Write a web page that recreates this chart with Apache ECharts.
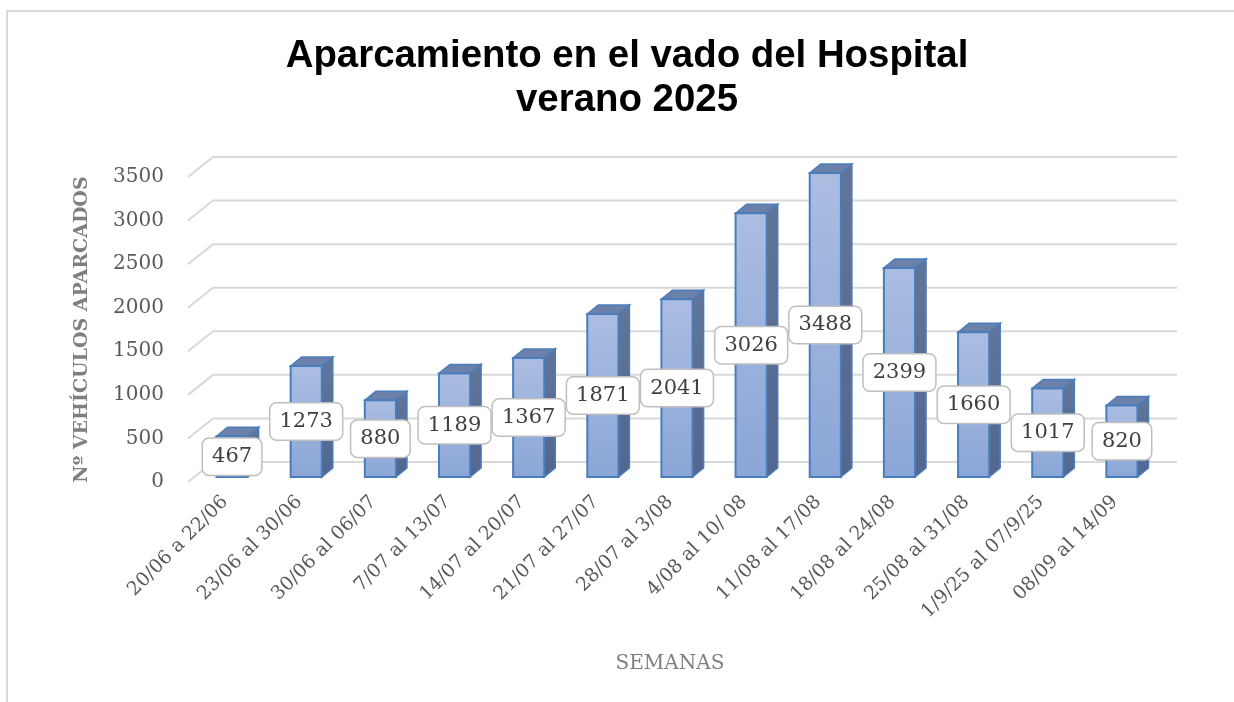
<!DOCTYPE html>
<html>
<head>
<meta charset="utf-8">
<title>Aparcamiento en el vado del Hospital</title>
<script src="https://cdn.jsdelivr.net/npm/echarts@6.0.0/dist/echarts.min.js"></script>
<style>
  html, body { margin: 0; padding: 0; background: #ffffff; }
  #chart { width: 1234px; height: 702px; }
</style>
</head>
<body>
<div id="chart"></div>
<script>
// semanas
const weeks = [
  '20/06 a 22/06', '23/06 al 30/06', '30/06 al 06/07', '7/07 al 13/07',
  '14/07 al 20/07', '21/07 al 27/07', '28/07 al 3/08', '4/08 al 10/ 08',
  '11/08 al 17/08', '18/08 al 24/08', '25/08 al 31/08', '1/9/25 al 07/9/25',
  '08/09 al 14/09'
];
// vehiculos aparcados
const parked = [467, 1273, 880, 1189, 1367, 1871, 2041, 3026, 3488, 2399, 1660, 1017, 820];
// marcas del eje y
const yTicks = [0, 500, 1000, 1500, 2000, 2500, 3000, 3500];

// profundidad "3D" (pared del fondo y columnas)
const WALL_DX = 25, WALL_DY = 20;
const BAR_SHIFT_X = 7, BAR_SHIFT_Y = 5;
const BAR_DX = 11, BAR_DY = 9;

const serif = 'DejaVu Serif';

let dom = document.getElementById('chart');
let myChart = echarts.init(dom);

// lineas de la cuadricula en perspectiva
function renderGrid(params, api) {
  let cs = params.coordSys;
  let y = api.coord([0, api.value(1)])[1];
  return {
    type: 'polyline',
    shape: {
      points: [[cs.x, y], [cs.x + WALL_DX, y - WALL_DY], [cs.x + cs.width + WALL_DX, y - WALL_DY]]
    },
    style: { stroke: '#d9d9d9', lineWidth: 2, fill: null },
    silent: true
  };
}

// columnas 3D
function renderBar(params, api) {
  let i = api.value(0);
  let base = api.coord([i, 0]);
  let top = api.coord([i, api.value(1)]);
  let w = api.size([1, 0])[0] * 0.42;
  let xl = base[0] + BAR_SHIFT_X - w / 2;
  let xr = xl + w;
  let yb = base[1] - BAR_SHIFT_Y;
  let yt = top[1] - BAR_SHIFT_Y;
  let edge = '#4a7dbb';
  return {
    type: 'group',
    children: [
      {
        type: 'polygon',
        shape: { points: [[xr, yt], [xr + BAR_DX, yt - BAR_DY], [xr + BAR_DX, yb - BAR_DY], [xr, yb]] },
        style: {
          fill: new echarts.graphic.LinearGradient(0, 0, 0, 1, [
            { offset: 0, color: '#627599' },
            { offset: 1, color: '#52668f' }
          ]),
          stroke: edge, lineWidth: 1.5
        }
      },
      {
        type: 'polygon',
        shape: { points: [[xl, yt], [xl + BAR_DX, yt - BAR_DY], [xr + BAR_DX, yt - BAR_DY], [xr, yt]] },
        style: { fill: '#6c81a9', stroke: edge, lineWidth: 1.5 }
      },
      {
        type: 'rect',
        shape: { x: xl, y: yt, width: w, height: yb - yt },
        style: {
          fill: new echarts.graphic.LinearGradient(0, 0, 0, 1, [
            { offset: 0, color: '#abbde1' },
            { offset: 1, color: '#8ba6d7' }
          ]),
          stroke: edge, lineWidth: 2
        }
      }
    ]
  };
}

// etiquetas de datos
function renderLabel(params, api) {
  let i = api.value(0);
  let base = api.coord([i, 0]);
  let top = api.coord([i, api.value(1)]);
  let cx = base[0] + BAR_SHIFT_X;
  let cy = (base[1] + top[1]) / 2 - BAR_SHIFT_Y;
  return {
    type: 'text',
    x: cx,
    y: cy,
    style: {
      text: String(api.value(1)),
      align: 'center',
      verticalAlign: 'middle',
      font: '21px "' + serif + '"',
      fill: '#404040',
      backgroundColor: '#ffffff',
      borderColor: '#bfbfbf',
      borderWidth: 1.5,
      borderRadius: 6,
      padding: [8, 9, 7, 9]
    }
  };
}

myChart.setOption({
  backgroundColor: '#ffffff',
  animation: false,
  title: {
    text: 'Aparcamiento en el vado del Hospital\nverano 2025',
    left: 627,
    textAlign: 'center',
    top: 34,
    padding: 0,
    textStyle: {
      fontFamily: 'Liberation Sans',
      fontWeight: 'bold',
      fontSize: 38.4,
      lineHeight: 44,
      color: '#000000'
    }
  },
  graphic: [{
    type: 'rect',
    shape: { x: 7, y: 11, width: 1400, height: 900 },
    style: { fill: null, stroke: '#d9d9d9', lineWidth: 2 },
    silent: true
  }],
  grid: {
    left: 188,
    top: 177,
    width: 964,
    height: 305
  },
  xAxis: {
    type: 'category',
    data: weeks,
    name: 'SEMANAS',
    nameLocation: 'middle',
    nameGap: 172,
    nameTextStyle: { fontFamily: serif, fontSize: 20, color: '#7f7f7f' },
    axisLine: { show: false },
    axisTick: { show: false },
    axisLabel: {
      interval: 0,
      rotate: 45,
      margin: 17,
      fontFamily: serif,
      fontSize: 19,
      color: '#595959'
    },
    splitLine: { show: false }
  },
  yAxis: {
    type: 'value',
    min: 0,
    max: 3500,
    interval: 500,
    name: 'Nº VEHÍCULOS APARCADOS',
    nameLocation: 'middle',
    nameRotate: 90,
    nameGap: 96,
    nameTextStyle: { fontFamily: serif, fontSize: 19, fontWeight: 'bold', color: '#7f7f7f' },
    axisLine: { show: false },
    axisTick: { show: false },
    axisLabel: {
      margin: 24,
      fontFamily: serif,
      fontSize: 20,
      color: '#595959',
      formatter: v => String(v)
    },
    splitLine: { show: false }
  },
  series: [
    {
      name: 'cuadricula',
      type: 'custom',
      renderItem: renderGrid,
      data: yTicks.map(v => [0, v]),
      z: 1
    },
    {
      name: 'vehiculos',
      type: 'custom',
      renderItem: renderBar,
      data: parked.map((v, i) => [i, v]),
      z: 2
    },
    {
      name: 'etiquetas',
      type: 'custom',
      renderItem: renderLabel,
      data: parked.map((v, i) => [i, v]),
      z: 3
    }
  ]
});
</script>
</body>
</html>
